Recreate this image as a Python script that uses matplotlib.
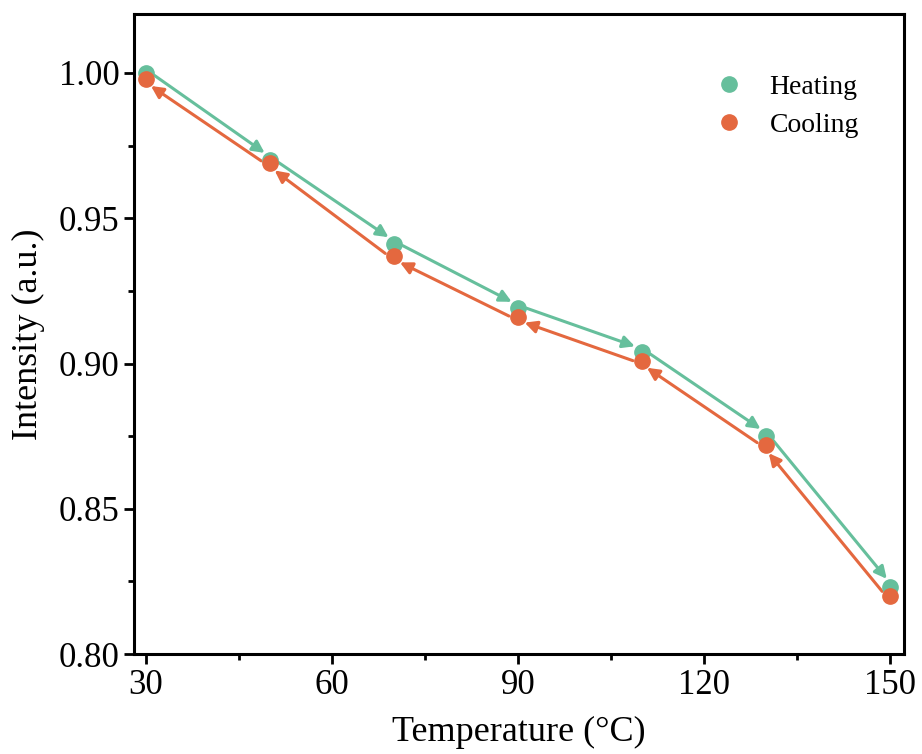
import matplotlib
matplotlib.use("Agg")
import numpy as np
import matplotlib.pyplot as plt
from matplotlib.ticker import MultipleLocator, FormatStrFormatter
from matplotlib.transforms import offset_copy

plt.rcParams['font.family'] = ['Liberation Serif', 'DejaVu Serif']

temps = [30, 50, 70, 90, 110, 130, 150]
heating = [1.000, 0.970, 0.941, 0.919, 0.904, 0.875, 0.823]
cooling = [0.998, 0.969, 0.937, 0.916, 0.901, 0.872, 0.820]

c_heat = '#66bf9c'
c_cool = '#e4683f'

fig = plt.figure(figsize=(9.22, 7.54), dpi=100)
ax = fig.add_axes([0.1453, 0.1326, 0.8352, 0.8488])

ax.plot(temps, heating, 'o', color=c_heat, ms=11, label='Heating', zorder=3)
ax.plot(temps, cooling, 'o', color=c_cool, ms=11, label='Cooling', zorder=4)

ax.set_xlim(28.1, 152.3)
ax.set_ylim(0.80, 1.0203)


def arrow(x0, y0, x1, y1, color, side):
    # shift the arrow sideways (perpendicular to segment) so the two paths separate
    p0 = ax.transData.transform((x0, y0))
    p1 = ax.transData.transform((x1, y1))
    d = p1 - p0
    n = np.array([-d[1], d[0]]) / np.hypot(*d)
    off = n * side
    tr = offset_copy(ax.transData, fig=fig, x=off[0], y=off[1], units='dots')
    ax.annotate('', xy=(x1, y1), xytext=(x0, y0), xycoords=tr, textcoords=tr,
                arrowprops=dict(arrowstyle='-|>', color=color, lw=2.2,
                                mutation_scale=18, shrinkA=6, shrinkB=6), zorder=2)


# heating arrows go forward, cooling arrows go back
for i in range(len(temps) - 1):
    arrow(temps[i], heating[i], temps[i+1], heating[i+1], c_heat, 3)
    arrow(temps[i+1], cooling[i+1], temps[i], cooling[i], c_cool, 3)

ax.xaxis.set_major_locator(MultipleLocator(30))
ax.xaxis.set_minor_locator(MultipleLocator(15))
ax.yaxis.set_major_locator(MultipleLocator(0.05))
ax.yaxis.set_minor_locator(MultipleLocator(0.025))
ax.yaxis.set_major_formatter(FormatStrFormatter('%.2f'))

for s in ax.spines.values():
    s.set_linewidth(2.2)
ax.tick_params(which='major', direction='out', length=7, width=2, labelsize=25)
ax.tick_params(which='minor', direction='out', length=4, width=2)

ax.set_xlabel('Temperature (°C)', fontsize=26, labelpad=10)
ax.set_ylabel('Intensity (a.u.)', fontsize=26, labelpad=10)

ax.legend(loc='upper right', frameon=False, fontsize=20, handletextpad=0.45,
          bbox_to_anchor=(0.974, 0.945), labelspacing=0.45)

fig.savefig('out.png', dpi=100)
